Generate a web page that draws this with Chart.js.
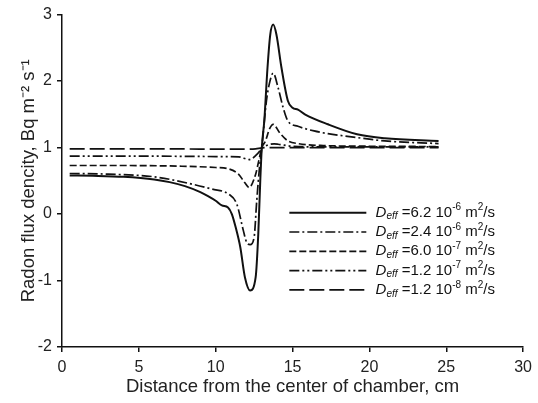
<!DOCTYPE html>
<html>
<head>
<meta charset="utf-8">
<script src="https://cdn.jsdelivr.net/npm/chart.js@4"></script>
<style>
  html, body { margin: 0; padding: 0; background: #fff; }
  #wrap { width: 538px; height: 403px; }
</style>
</head>
<body>
<div id="wrap"><canvas id="fluxChart"></canvas></div>
<script>
// Distance (cm) and radon flux density for each D_eff curve
var xA = [0.5, 2, 4, 6, 7, 8, 9, 9.5, 10, 10.4, 10.8, 11.05, 11.3, 11.6, 11.9, 12.24, 12.6, 12.77, 12.9, 13.0, 13.16, 13.37, 13.55, 13.74, 13.95, 14.28, 14.7, 15.0, 15.35, 15.8, 17.3, 19.2, 21, 24.5];
var yA = [0.58, 0.575, 0.56, 0.52, 0.48, 0.42, 0.33, 0.27, 0.2, 0.13, 0.1, 0.0, -0.2, -0.5, -0.95, -1.15, -0.95, -0.3, 0.5, 1.0, 1.4, 2.2, 2.7, 2.85, 2.7, 2.2, 1.7, 1.6, 1.57, 1.5, 1.35, 1.2, 1.14, 1.1];

var xB = [0.5, 3, 6, 8.47, 9.76, 10.84, 11.37, 11.8, 12.0, 12.24, 12.5, 12.67, 12.85, 13.0, 13.3, 13.48, 13.74, 14.06, 14.39, 14.7, 15.35, 16.4, 17.3, 19.2, 21, 24.5];
var yB = [0.61, 0.6, 0.56, 0.45, 0.375, 0.3, 0.15, -0.25, -0.42, -0.46, -0.35, 0.2, 0.7, 1.0, 1.7, 1.95, 2.12, 1.9, 1.6, 1.4, 1.32, 1.25, 1.21, 1.15, 1.1, 1.06];

var xC = [0.5, 4, 7.6, 10.0, 10.84, 11.48, 11.9, 12.17, 12.6, 12.8, 13.0, 13.24, 13.5, 13.74, 14.17, 14.7, 15.35, 17, 20, 24.5];
var yC = [0.73, 0.73, 0.72, 0.7, 0.68, 0.6, 0.47, 0.4, 0.6, 0.8, 1.0, 1.1, 1.28, 1.35, 1.22, 1.1, 1.06, 1.03, 1.02, 1.015];

var xD = [0.5, 6, 10, 11.5, 12.17, 12.77, 13.0, 13.4, 13.8, 14.06, 15, 17, 24.5];
var yD = [0.87, 0.87, 0.865, 0.86, 0.82, 0.92, 0.99, 1.04, 1.055, 1.05, 1.02, 1.01, 1.01];

var xE = [0.5, 6, 12, 12.6, 13.0, 13.5, 24.5];
var yE = [0.98, 0.98, 0.975, 0.98, 0.995, 1.0, 1.0];

// legend: D_eff = coef 10^exp m2/s
var deffCoef = ['6.2', '2.4', '6.0', '1.2', '1.2'];
var deffExp = ['-6', '-6', '-7', '-7', '-8'];

var xTicks = [0, 5, 10, 15, 20, 25, 30];
var yTicks = [-2, -1, 0, 1, 2, 3];

function pts(xs, ys) {
    return xs.map(function(x, i) { return { x: x, y: ys[i] }; });
}

var ink = '#111';
var dashes = [[], [10, 3, 2, 3], [7, 3], [10, 3, 2, 3, 2, 3], [15, 5]];
var series = [pts(xA, yA), pts(xB, yB), pts(xC, yC), pts(xD, yD), pts(xE, yE)];

var datasets = series.map(function(d, i) {
    return {
        label: 'D_eff=' + deffCoef[i] + 'e' + deffExp[i],
        data: d,
        showLine: true,
        borderColor: ink,
        borderWidth: i === 0 ? 2 : 1.7,
        borderDash: dashes[i],
        pointRadius: 0,
        cubicInterpolationMode: 'monotone',
        fill: false
    };
});

var FONT = '"Liberation Sans", Arial, sans-serif';

// legend with italic subscript and superscripts, drawn inside the plot
var richLegend = {
    id: 'richLegend',
    afterDatasetsDraw: function(chart) {
        var ctx = chart.ctx, a = chart.chartArea;
        var x0 = a.left + a.width * 0.493;
        var x1 = a.left + a.width * 0.66;
        var tx = a.left + a.width * 0.68;
        ctx.save();
        chart.data.datasets.forEach(function(ds, i) {
            var y = a.top + a.height * 0.596 + i * 19.3;
            ctx.beginPath();
            ctx.setLineDash(ds.borderDash);
            ctx.lineWidth = ds.borderWidth;
            ctx.strokeStyle = ds.borderColor;
            ctx.moveTo(x0, y);
            ctx.lineTo(x1, y);
            ctx.stroke();
            ctx.setLineDash([]);

            var x = tx;
            ctx.fillStyle = ink;
            ctx.textBaseline = 'middle';
            ctx.textAlign = 'left';
            function put(s, font, dy) {
                ctx.font = font;
                ctx.fillText(s, x, y + dy);
                x += ctx.measureText(s).width;
            }
            put('D', 'italic 15px ' + FONT, 0);
            put('eff', 'italic 10px ' + FONT, 4);
            put(' =' + deffCoef[i] + ' 10', '15px ' + FONT, 0);
            put(deffExp[i], '10px ' + FONT, -5);
            put(' m', '15px ' + FONT, 0);
            put('2', '10px ' + FONT, -5);
            put('/s', '15px ' + FONT, 0);
        });
        ctx.restore();
    }
};

var ctx = document.getElementById('fluxChart').getContext('2d');
var fluxChart = new Chart(ctx, {
    type: 'scatter',
    data: { datasets: datasets },
    plugins: [richLegend],
    options: {
        responsive: true,
        maintainAspectRatio: false,
        animation: false,
        layout: { padding: { top: 13, right: 11, bottom: 0, left: 0 } },
        plugins: {
            legend: { display: false },
            tooltip: { enabled: false }
        },
        scales: {
            x: {
                type: 'linear',
                min: 0,
                max: 30,
                afterBuildTicks: function(s) { s.ticks = xTicks.map(function(v) { return { value: v }; }); },
                afterFit: function(s) { s.height = 56; },
                grid: { drawOnChartArea: false, color: ink, tickLength: 5, lineWidth: 1.5 },
                border: { color: ink, width: 1.5 },
                ticks: { color: '#222', font: { family: FONT, size: 16 }, padding: 6, maxRotation: 0 },
                title: {
                    display: true,
                    text: 'Distance from the center of chamber, cm',
                    color: '#222',
                    font: { family: FONT, size: 18.5 },
                    padding: { top: 2, bottom: 5 }
                }
            },
            y: {
                min: -2,
                max: 3,
                afterBuildTicks: function(s) { s.ticks = yTicks.map(function(v) { return { value: v }; }); },
                afterFit: function(s) { s.width = 62; },
                grid: { drawOnChartArea: false, color: ink, tickLength: 5, lineWidth: 1.5 },
                border: { color: ink, width: 1.5 },
                ticks: { color: '#222', font: { family: FONT, size: 16 }, padding: 5 },
                title: {
                    display: true,
                    text: 'Radon flux dencity, Bq m\u207B\u00B2 s\u207B\u00B9',
                    color: '#222',
                    font: { family: FONT, size: 18.5 },
                    padding: { top: 18, bottom: 0 }
                }
            }
        }
    }
});
</script>
</body>
</html>
